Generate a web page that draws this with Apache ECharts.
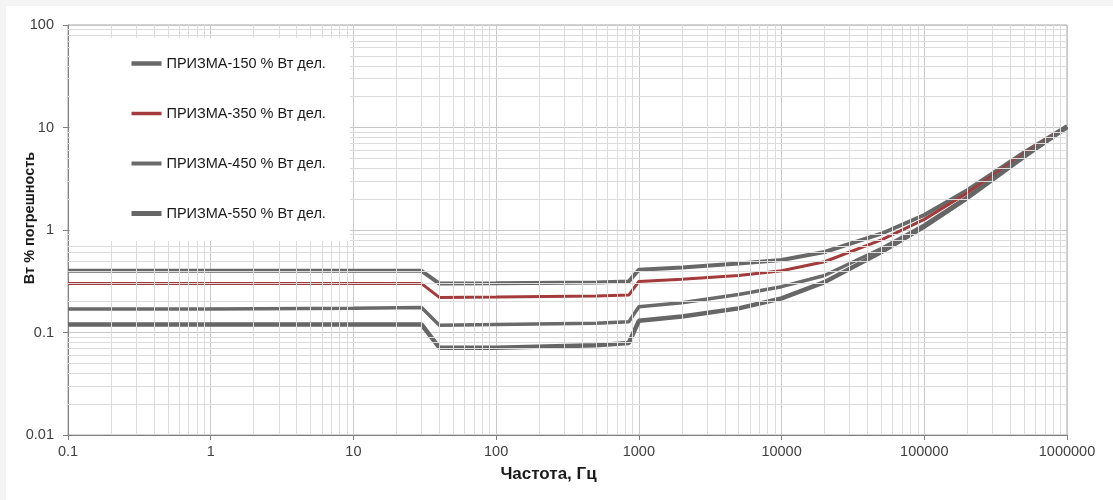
<!DOCTYPE html>
<html>
<head>
<meta charset="utf-8">
<script src="https://cdn.jsdelivr.net/npm/echarts@6/dist/echarts.min.js"></script>
<style>
  html, body { margin: 0; padding: 0; background: #f4f4f4; width: 1113px; height: 500px; overflow: hidden; }
  #chart { position: absolute; left: 6px; top: 6px; width: 1107px; height: 494px; background: #ffffff; }
</style>
</head>
<body>
<div id="chart"></div>
<script>
// Frequencies (Hz)
const freq = [0.1, 1, 10, 30, 40, 100, 500, 850, 1000, 2000, 5000, 10000, 20000, 50000, 100000, 200000, 500000, 1000000];
// Error values (%)
const prizma150 = [0.4, 0.4, 0.4, 0.4, 0.3, 0.302, 0.307, 0.315, 0.41, 0.43, 0.47, 0.51, 0.61, 0.92, 1.4, 2.45, 5.7, 10.3];
const prizma350 = [0.3, 0.3, 0.3, 0.3, 0.22, 0.222, 0.227, 0.232, 0.315, 0.33, 0.36, 0.40, 0.49, 0.8, 1.27, 2.3, 5.5, 10.2];
const prizma450 = [0.17, 0.17, 0.172, 0.175, 0.118, 0.12, 0.123, 0.127, 0.178, 0.195, 0.235, 0.28, 0.36, 0.66, 1.12, 2.1, 5.3, 10.1];
const prizma550 = [0.12, 0.12, 0.12, 0.12, 0.071, 0.071, 0.075, 0.079, 0.13, 0.143, 0.172, 0.215, 0.31, 0.61, 1.08, 2.05, 5.2, 10.1];
const seriesNames = ['ПРИЗМА-150 % Вт дел.', 'ПРИЗМА-350 % Вт дел.', 'ПРИЗМА-450 % Вт дел.', 'ПРИЗМА-550 % Вт дел.'];
const xTickLabels = ['0.1', '1', '10', '100', '1000', '10000', '100000', '1000000'];
const yTickLabels = ['0.01', '0.1', '1', '10', '100'];
const xTitle = 'Частота, Гц';
const yTitle = 'Вт % погрешность';

const FONT = 'Liberation Sans, Arial, sans-serif';

// minor grid positions (2..9 within each decade)
function minorValues(loExp, hiExp) {
  const out = [];
  for (let e = loExp; e < hiExp; e++) {
    for (let k = 2; k <= 9; k++) out.push(Number((k * Math.pow(10, e)).toPrecision(3)));
  }
  return out;
}
const xMinor = minorValues(-1, 6);
const yMinor = minorValues(-2, 2);

function fmt(v) { return String(Number(Number(v).toPrecision(6))); }

const toPairs = arr => freq.map((f, i) => [f, arr[i]]);

const styles = [
  { color: '#686868', width: 4 },
  { color: '#a53a3a', width: 3 },
  { color: '#6a6a6a', width: 3.5 },
  { color: '#666666', width: 4.5 }
];
const dataSets = [prizma150, prizma350, prizma450, prizma550];

const series = [{
  type: 'line',
  data: [],
  silent: true,
  z: 1,
  markLine: {
    silent: true,
    symbol: ['none', 'none'],
    label: { show: false },
    animation: false,
    lineStyle: { color: '#dcdcdc', width: 1, type: 'solid' },
    data: xMinor.map(v => ({ xAxis: v })).concat(yMinor.map(v => ({ yAxis: v })))
  }
}];
dataSets.forEach((d, i) => {
  series.push({
    name: seriesNames[i],
    type: 'line',
    data: toPairs(d),
    symbol: 'none',
    showSymbol: false,
    z: 3,
    lineStyle: { color: styles[i].color, width: styles[i].width },
    itemStyle: { color: styles[i].color }
  });
});

const chart = echarts.init(document.getElementById('chart'), null, { renderer: 'canvas' });
chart.setOption({
  animation: false,
  backgroundColor: '#ffffff',
  textStyle: { fontFamily: FONT },
  grid: {
    left: 62, top: 19, right: 46, bottom: 65,
    containLabel: false,
    outerBoundsMode: 'none',
    show: true, borderColor: '#a6a6a6', borderWidth: 1, backgroundColor: 'transparent'
  },
  legend: {
    data: seriesNames.map((n, i) => ({ name: n, lineStyle: { width: styles[i].width + 0.5, color: styles[i].color } })),
    orient: 'vertical',
    left: 64,
    top: 32,
    z: 10,
    backgroundColor: '#ffffff',
    padding: [18, 24, 20, 59],
    itemGap: 35,
    itemWidth: 30,
    itemHeight: 14,
    itemStyle: { opacity: 0 },
    textStyle: { fontFamily: FONT, fontSize: 14.5, color: '#1a1a1a' },
    selectedMode: false
  },
  xAxis: {
    type: 'log',
    logBase: 10,
    min: 0.1,
    max: 1000000,
    interval: 1,
    name: xTitle,
    nameLocation: 'middle',
    nameGap: 31,
    nameMoveOverlap: false,
    nameTextStyle: { fontFamily: FONT, fontSize: 17, fontWeight: 'bold', color: '#1a1a1a', padding: [0, 38, 0, 0] },
    axisLine: { show: true, lineStyle: { color: '#808080', width: 1 } },
    axisTick: { show: true, inside: false, length: 5, lineStyle: { color: '#808080' } },
    axisLabel: {
      fontFamily: FONT, fontSize: 14.5, color: '#404040', margin: 9,
      formatter: v => { const s = fmt(v); return xTickLabels.includes(s) ? s : ''; }
    },
    splitLine: { show: true, lineStyle: { color: '#c8c8c8', width: 1 } },
    minorTick: { show: false },
    minorSplitLine: { show: false }
  },
  yAxis: {
    type: 'log',
    logBase: 10,
    min: 0.01,
    max: 100,
    interval: 1,
    name: yTitle,
    nameLocation: 'middle',
    nameGap: 31,
    nameMoveOverlap: false,
    nameTextStyle: { fontFamily: FONT, fontSize: 14.5, fontWeight: 'bold', color: '#1a1a1a', padding: [0, 0, 0, 24] },
    axisLine: { show: true, lineStyle: { color: '#808080', width: 1 } },
    axisTick: { show: true, inside: false, length: 5, lineStyle: { color: '#808080' } },
    axisLabel: {
      fontFamily: FONT, fontSize: 14.5, color: '#404040', margin: 14,
      formatter: v => { const s = fmt(v); return yTickLabels.includes(s) ? s : ''; }
    },
    splitLine: { show: true, lineStyle: { color: '#c8c8c8', width: 1 } },
    minorTick: { show: false },
    minorSplitLine: { show: false }
  },
  series: series
});
</script>
</body>
</html>
